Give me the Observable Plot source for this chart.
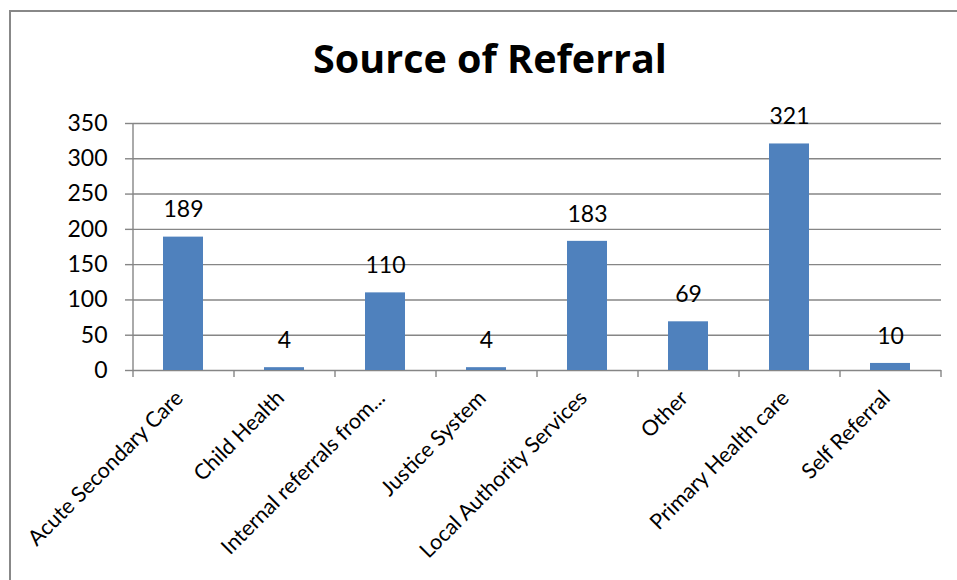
<!DOCTYPE html>
<html>
<head>
<meta charset="utf-8">
<script src="https://cdn.jsdelivr.net/npm/d3@7"></script>
<script src="https://cdn.jsdelivr.net/npm/@observablehq/plot@0.6"></script>
<style>
  body { margin: 0; background: #fff; }
  #border { position: absolute; left: 9px; top: 10px; width: 1000px; height: 1000px;
            border-left: 2px solid #888; border-top: 2px solid #888; }
  #title { position: absolute; left: 0; top: 34px; width: 980px; text-align: center;
           font: bold 39.5px "Open Sans", sans-serif; color: #000; line-height: 48px; }
  #chart { position: absolute; left: 0; top: 100px; }
</style>
</head>
<body>
<div id="border"></div>
<div id="title">Source of Referral</div>
<div id="chart"></div>
<script>
const categories = [
  "Acute Secondary Care", "Child Health", "Internal referrals from...", "Justice System",
  "Local Authority Services", "Other", "Primary Health care", "Self Referral"
];
const counts = [189, 4, 110, 4, 183, 69, 321, 10];
const yTicks = [0, 50, 100, 150, 200, 250, 300, 350];

const data = categories.map((c, i) => ({category: c, count: counts[i]}));

const W = 957, mL = 133, mR = 16;
const step = (W - mL - mR) / categories.length;
const lineColor = "#868686";

const chart = Plot.plot({
  width: W,
  height: 480,
  marginTop: 23,
  marginBottom: 210,
  marginLeft: mL,
  marginRight: mR,
  style: {fontFamily: "Lato, sans-serif", fontSize: "23px", color: "#000", background: "transparent", overflow: "visible"},
  x: {domain: categories, paddingInner: 0.6, paddingOuter: 0.3, label: null},
  y: {domain: [0, 350], label: null},
  marks: [
    Plot.gridY(yTicks, {stroke: lineColor, strokeOpacity: 1, strokeWidth: 1.4}),
    Plot.barY(data, {x: "category", y: "count", fill: "#4F81BD"}),
    Plot.ruleX(categories, {x: d => d, y1: 0, y2: 0, dx: -step / 2, insetBottom: -7, stroke: lineColor, strokeWidth: 1.4}),
    Plot.ruleX(categories.slice(-1), {x: d => d, y1: 0, y2: 0, dx: step / 2, insetBottom: -7, stroke: lineColor, strokeWidth: 1.4}),
    Plot.ruleX(categories.slice(0, 1), {x: d => d, y1: 0, y2: yTicks[yTicks.length - 1], dx: -step / 2, stroke: lineColor, strokeWidth: 1.4}),
    Plot.axisY(yTicks, {tickSize: 8, tickPadding: 18, stroke: lineColor, strokeWidth: 1.4, fontSize: 23, label: null}),
    Plot.axisX({tickSize: 0, tickRotate: -45, tickPadding: 24, dx: -4, fontSize: 21.5, label: null}),
    Plot.text(data, {x: "category", y: "count", text: d => String(d.count), dy: -27, fontSize: 23, fill: "#000"})
  ]
});
document.getElementById("chart").appendChild(chart);
</script>
</body>
</html>
